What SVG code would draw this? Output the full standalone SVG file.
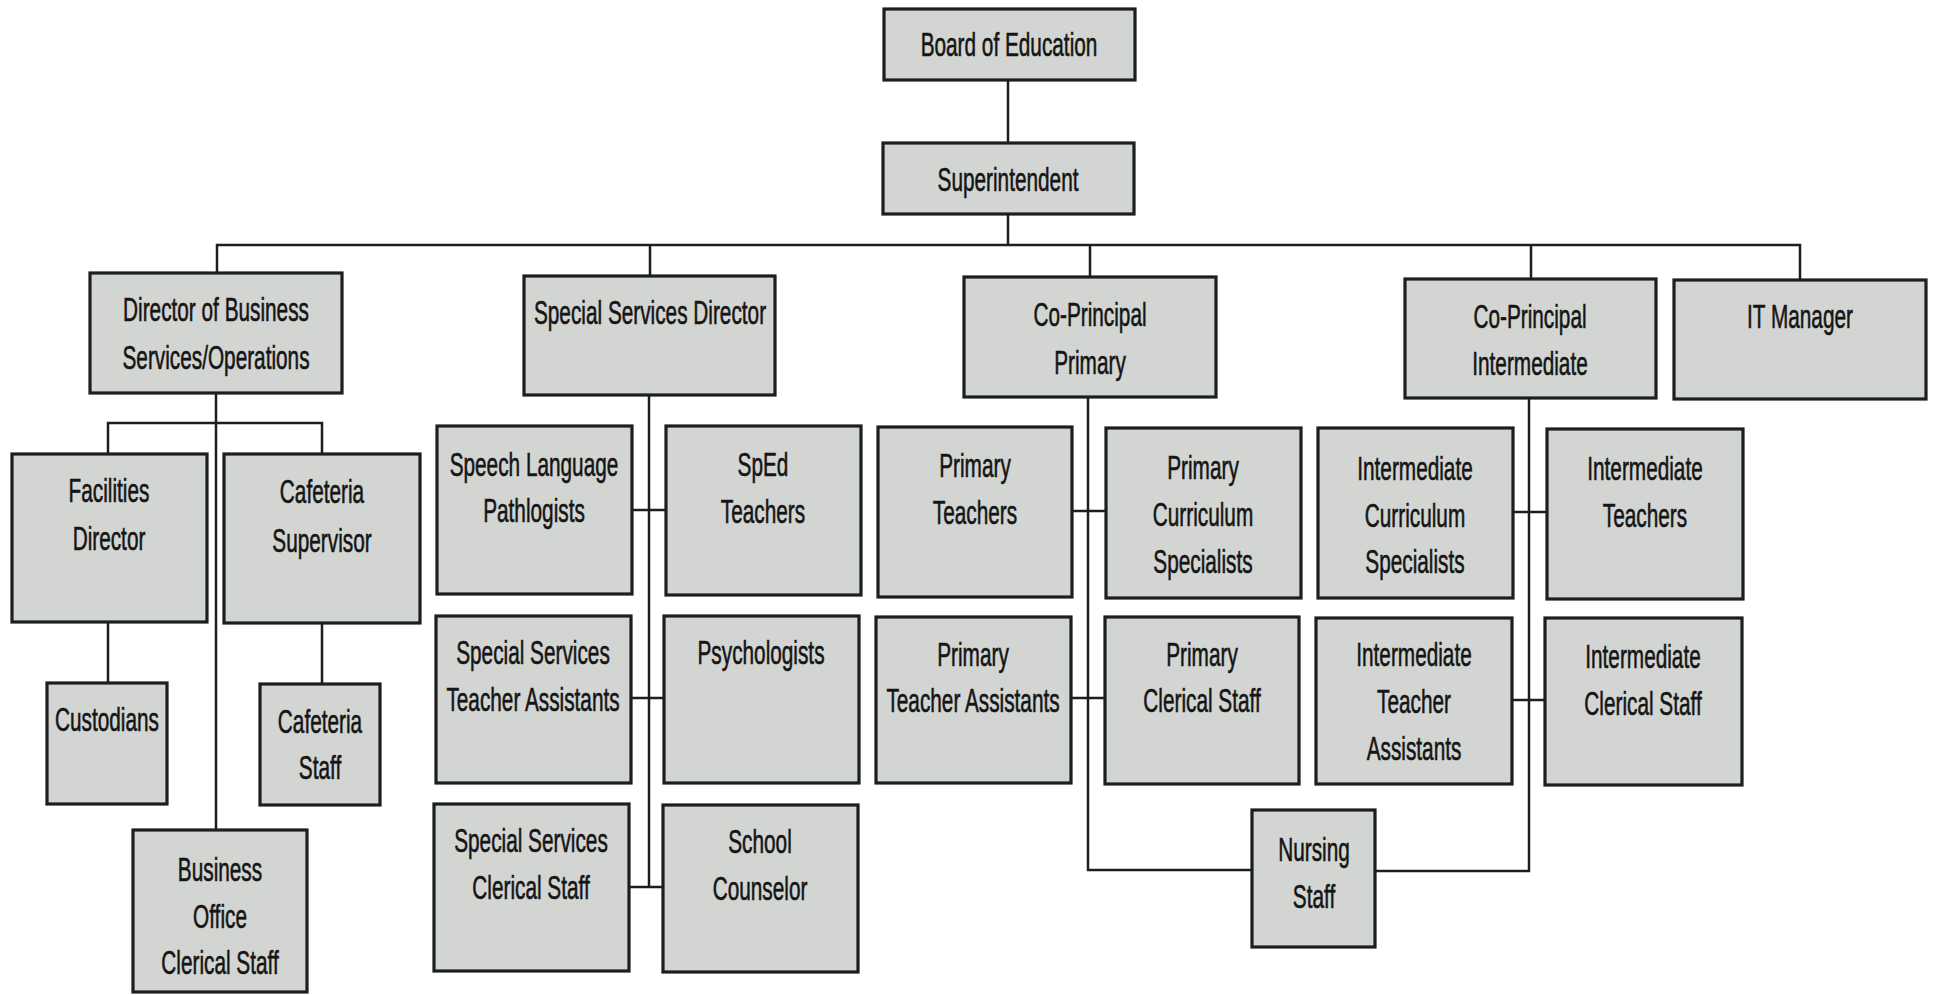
<svg xmlns="http://www.w3.org/2000/svg" width="1936" height="995" viewBox="0 0 1936 995">
<style>
.bx{fill:#d3d5d3;stroke:#1b1f1e;stroke-width:3.2}
.ln{stroke:#1b1f1e;stroke-width:2.5;fill:none;stroke-linecap:square}
.t{font-family:"Liberation Sans",Arial,sans-serif;font-size:33px;fill:#151515;stroke:#151515;stroke-width:0.6;text-anchor:middle}
</style>
<rect width="1936" height="995" fill="#ffffff"/>
<g id="connectors">
<path class="ln" d="M1008 80V143M1008 214V245M217 245H1800M217 245V273M650 245V276M1090 245V277M1531 245V279M1800 245V280"/>
<path class="ln" d="M216 393V830M108 423H322M108 423V454M322 423V454M108 622V683M322 623V684"/>
<path class="ln" d="M649 395V887M632 510H666M631 698H664M629 887H663"/>
<path class="ln" d="M1088 397V870H1252M1072 511H1106M1071 698H1105"/>
<path class="ln" d="M1529 398V871H1375M1513 512H1547M1512 700H1545"/>
</g>
<g id="board"><rect class="bx" x="884" y="9" width="251" height="71"/><text class="t" transform="translate(1009 0) scale(0.63 1)"><tspan x="0" y="56">Board of Education</tspan></text></g>
<g id="superintendent"><rect class="bx" x="883" y="143" width="251" height="71"/><text class="t" transform="translate(1008 0) scale(0.63 1)"><tspan x="0" y="191">Superintendent</tspan></text></g>
<g id="dir-business"><rect class="bx" x="90" y="273" width="252" height="120"/><text class="t" transform="translate(216 0) scale(0.63 1)"><tspan x="0" y="321">Director of Business</tspan><tspan x="0" y="369">Services/Operations</tspan></text></g>
<g id="special-services-director"><rect class="bx" x="524" y="276" width="251" height="119"/><text class="t" transform="translate(650 0) scale(0.63 1)"><tspan x="0" y="324">Special Services Director</tspan></text></g>
<g id="co-principal-primary"><rect class="bx" x="964" y="277" width="252" height="120"/><text class="t" transform="translate(1090 0) scale(0.63 1)"><tspan x="0" y="326">Co-Principal</tspan><tspan x="0" y="374">Primary</tspan></text></g>
<g id="co-principal-intermediate"><rect class="bx" x="1405" y="279" width="251" height="119"/><text class="t" transform="translate(1530 0) scale(0.63 1)"><tspan x="0" y="328">Co-Principal</tspan><tspan x="0" y="375">Intermediate</tspan></text></g>
<g id="it-manager"><rect class="bx" x="1674" y="280" width="252" height="119"/><text class="t" transform="translate(1800 0) scale(0.63 1)"><tspan x="0" y="328">IT Manager</tspan></text></g>
<g id="facilities-director"><rect class="bx" x="12" y="454" width="195" height="168"/><text class="t" transform="translate(109 0) scale(0.63 1)"><tspan x="0" y="502">Facilities</tspan><tspan x="0" y="550">Director</tspan></text></g>
<g id="cafeteria-supervisor"><rect class="bx" x="224" y="454" width="196" height="169"/><text class="t" transform="translate(322 0) scale(0.63 1)"><tspan x="0" y="503">Cafeteria</tspan><tspan x="0" y="552">Supervisor</tspan></text></g>
<g id="custodians"><rect class="bx" x="47" y="683" width="120" height="121"/><text class="t" transform="translate(107 0) scale(0.63 1)"><tspan x="0" y="731">Custodians</tspan></text></g>
<g id="cafeteria-staff"><rect class="bx" x="260" y="684" width="120" height="121"/><text class="t" transform="translate(320 0) scale(0.63 1)"><tspan x="0" y="733">Cafeteria</tspan><tspan x="0" y="779">Staff</tspan></text></g>
<g id="business-office-clerical"><rect class="bx" x="133" y="830" width="174" height="162"/><text class="t" transform="translate(220 0) scale(0.63 1)"><tspan x="0" y="881">Business</tspan><tspan x="0" y="928">Office</tspan><tspan x="0" y="974">Clerical Staff</tspan></text></g>
<g id="speech-language"><rect class="bx" x="437" y="426" width="195" height="168"/><text class="t" transform="translate(534 0) scale(0.63 1)"><tspan x="0" y="476">Speech Language</tspan><tspan x="0" y="522">Pathlogists</tspan></text></g>
<g id="sped-teachers"><rect class="bx" x="666" y="426" width="195" height="169"/><text class="t" transform="translate(763 0) scale(0.63 1)"><tspan x="0" y="476">SpEd</tspan><tspan x="0" y="523">Teachers</tspan></text></g>
<g id="ss-teacher-assistants"><rect class="bx" x="436" y="616" width="195" height="167"/><text class="t" transform="translate(533 0) scale(0.63 1)"><tspan x="0" y="664">Special Services</tspan><tspan x="0" y="711">Teacher Assistants</tspan></text></g>
<g id="psychologists"><rect class="bx" x="664" y="616" width="195" height="167"/><text class="t" transform="translate(761 0) scale(0.63 1)"><tspan x="0" y="664">Psychologists</tspan></text></g>
<g id="ss-clerical"><rect class="bx" x="434" y="804" width="195" height="167"/><text class="t" transform="translate(531 0) scale(0.63 1)"><tspan x="0" y="852">Special Services</tspan><tspan x="0" y="899">Clerical Staff</tspan></text></g>
<g id="school-counselor"><rect class="bx" x="663" y="805" width="195" height="167"/><text class="t" transform="translate(760 0) scale(0.63 1)"><tspan x="0" y="853">School</tspan><tspan x="0" y="900">Counselor</tspan></text></g>
<g id="primary-teachers"><rect class="bx" x="878" y="427" width="194" height="170"/><text class="t" transform="translate(975 0) scale(0.63 1)"><tspan x="0" y="477">Primary</tspan><tspan x="0" y="524">Teachers</tspan></text></g>
<g id="primary-curriculum"><rect class="bx" x="1106" y="428" width="195" height="170"/><text class="t" transform="translate(1203 0) scale(0.63 1)"><tspan x="0" y="479">Primary</tspan><tspan x="0" y="526">Curriculum</tspan><tspan x="0" y="573">Specialists</tspan></text></g>
<g id="primary-teacher-assistants"><rect class="bx" x="876" y="617" width="195" height="166"/><text class="t" transform="translate(973 0) scale(0.63 1)"><tspan x="0" y="666">Primary</tspan><tspan x="0" y="712">Teacher Assistants</tspan></text></g>
<g id="primary-clerical"><rect class="bx" x="1105" y="617" width="194" height="167"/><text class="t" transform="translate(1202 0) scale(0.63 1)"><tspan x="0" y="666">Primary</tspan><tspan x="0" y="712">Clerical Staff</tspan></text></g>
<g id="nursing-staff"><rect class="bx" x="1252" y="810" width="123" height="137"/><text class="t" transform="translate(1314 0) scale(0.63 1)"><tspan x="0" y="861">Nursing</tspan><tspan x="0" y="908">Staff</tspan></text></g>
<g id="intermediate-curriculum"><rect class="bx" x="1318" y="428" width="195" height="170"/><text class="t" transform="translate(1415 0) scale(0.63 1)"><tspan x="0" y="480">Intermediate</tspan><tspan x="0" y="527">Curriculum</tspan><tspan x="0" y="573">Specialists</tspan></text></g>
<g id="intermediate-teachers"><rect class="bx" x="1547" y="429" width="196" height="170"/><text class="t" transform="translate(1645 0) scale(0.63 1)"><tspan x="0" y="480">Intermediate</tspan><tspan x="0" y="527">Teachers</tspan></text></g>
<g id="intermediate-teacher-assistants"><rect class="bx" x="1316" y="618" width="196" height="166"/><text class="t" transform="translate(1414 0) scale(0.63 1)"><tspan x="0" y="666">Intermediate</tspan><tspan x="0" y="713">Teacher</tspan><tspan x="0" y="760">Assistants</tspan></text></g>
<g id="intermediate-clerical"><rect class="bx" x="1545" y="618" width="197" height="167"/><text class="t" transform="translate(1643 0) scale(0.63 1)"><tspan x="0" y="668">Intermediate</tspan><tspan x="0" y="715">Clerical Staff</tspan></text></g>
</svg>
